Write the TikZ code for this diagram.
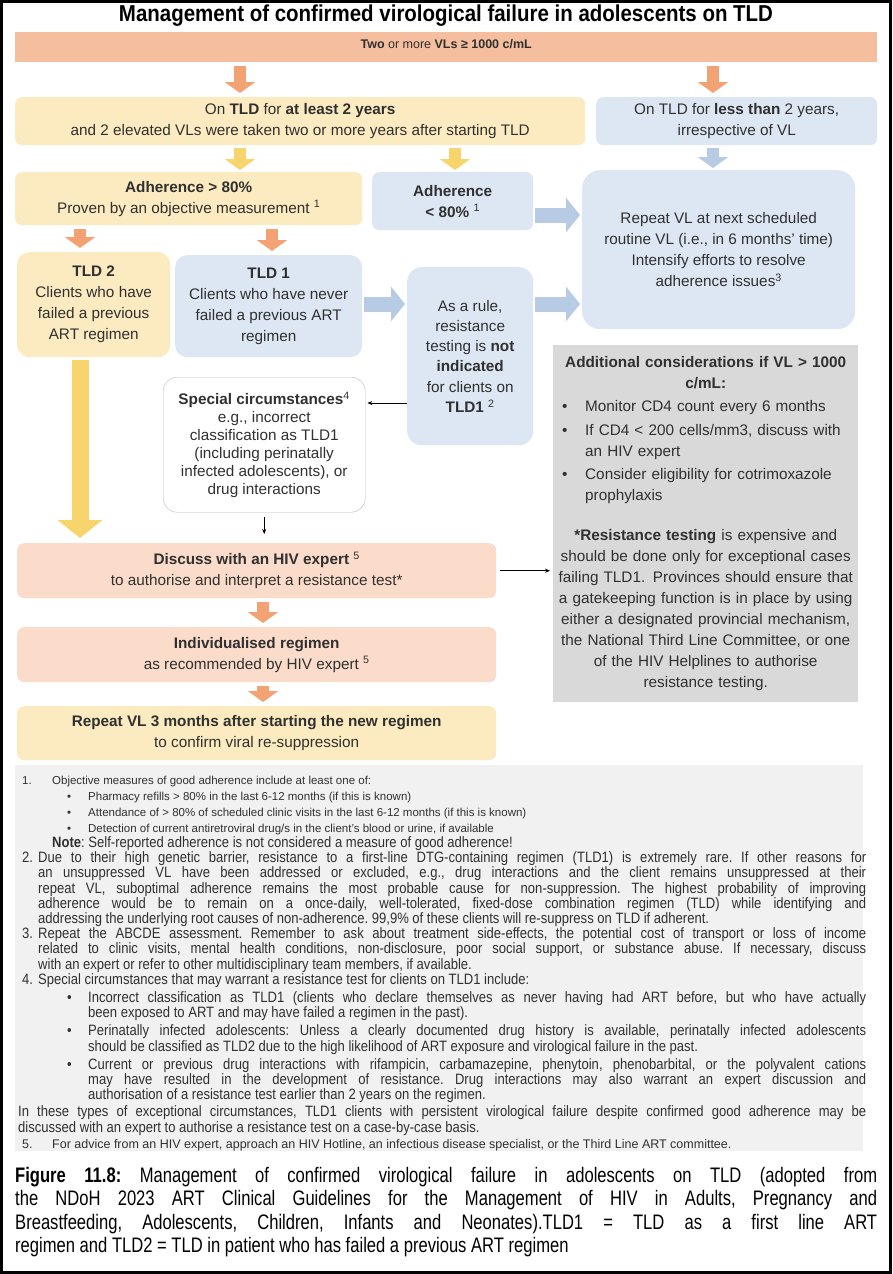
\documentclass[tikz,border=0pt]{standalone}
\usepackage{fontspec}
\setmainfont{Liberation Sans}
\newfontfamily\titlefamily{Liberation Sans}[FakeStretch=0.89]
\newfontfamily\notefamily{Liberation Sans}[FakeStretch=0.87]
\newfontfamily\capfamily{Liberation Sans}[FakeStretch=0.79]
\usetikzlibrary{arrows.meta}

\definecolor{salmon}{HTML}{F5BE9F}
\definecolor{peach}{HTML}{FBDCCA}
\definecolor{paleyellow}{HTML}{FCEBC0}
\definecolor{paleblue}{HTML}{DDE7F3}
\definecolor{arroworange}{HTML}{F2A273}
\definecolor{arrowyellow}{HTML}{F8D46C}
\definecolor{arrowblue}{HTML}{B7CBE5}
\definecolor{boxgray}{HTML}{D9D9D9}
\definecolor{notegray}{HTML}{F1F1F1}
\definecolor{inkgray}{HTML}{303030}

\newcommand{\flowfont}{\fontsize{15.3}{21}\selectfont}
\newcommand{\titlefont}{\titlefamily\bfseries\fontsize{23}{26}\selectfont}
\newcommand{\notefont}{\notefamily\fontsize{15}{15.2}\selectfont}
\newcommand{\notesmall}{\fontsize{11.5}{16}\selectfont}
\newcommand{\capfont}{\capfamily\fontsize{21}{23.5}\selectfont}

\newcommand{\graybullet}[1]{\par\vspace{2.5pt}\leftskip=29.5pt\noindent\llap{\makebox[23pt][l]{\textbullet}}#1}
\newcommand{\noteitem}[2]{\par\leftskip=#1\noindent\llap{\makebox[#1][l]{\hspace{4pt}#2}}}
\newcommand{\notebullet}{\par\leftskip=70pt\noindent\llap{\makebox[21pt][l]{\textbullet}}}
\newcommand{\justifyall}{\rightskip=0pt\spaceskip=0pt\xspaceskip=0pt\hbadness=10000\frenchspacing}

\tikzset{
  flowbox/.style={anchor=north west, rounded corners=7pt, align=center,
    inner sep=2pt, text=inkgray, font=\flowfont},
  yellowbox/.style={flowbox, fill=paleyellow},
  bluebox/.style={flowbox, fill=paleblue},
  peachbox/.style={flowbox, fill=peach},
  downarrow/.style={line width=12pt, -{Triangle[width=30pt,length=11pt]},
    shorten <=4pt, shorten >=4pt},
  orangedown/.style={downarrow, draw=arroworange},
  yellowdown/.style={downarrow, draw=arrowyellow, shorten <=3pt, shorten >=2pt},
  bluedown/.style={downarrow, draw=arrowblue, shorten <=3pt, shorten >=2pt},
  sidearrow/.style={line width=15pt, draw=arrowblue,
    -{Triangle[width=34pt,length=14pt]}, shorten <=2pt, shorten >=2pt},
  thinarrow/.style={line width=0.7pt, -{Stealth[length=5pt,width=4pt]}},
}

\begin{document}
\begin{tikzpicture}[x=1pt, y=-1pt]
  % Page and frame.
  \fill[white] (0,0) rectangle (892,1274);
  \useasboundingbox (0,0) rectangle (892,1274);
  \draw[line width=3pt] (1.5,1.5) rectangle (890.5,1272.5);

  \node[font=\titlefont] (title) at (446,16)
    {Management of confirmed virological failure in adolescents on TLD};

  % Flow chart.
  \node[flowbox, fill=salmon, rounded corners=0pt, minimum width=862pt,
    minimum height=30pt, text depth=7pt, font=\fontsize{12.5}{15}\selectfont]
    (vls) at (15,32) {\textbf{Two} or more \textbf{VLs ≥ 1000 c/mL}};

  \node[yellowbox, minimum width=570pt, minimum height=48pt] (atleast) at (15,97)
    {On \textbf{TLD} for \textbf{at least 2 years}\\
     and 2 elevated VLs were taken two or more years after starting TLD};
  \node[bluebox, minimum width=281pt, minimum height=48pt] (lessthan) at (596,97)
    {On TLD for \textbf{less than} 2 years,\\irrespective of VL};

  \node[yellowbox, minimum width=347pt, minimum height=53pt] (adhhigh) at (15,172)
    {\textbf{Adherence > 80\%}\\Proven by an objective measurement \textsuperscript{1}};
  \node[bluebox, minimum width=161pt, minimum height=58pt] (adhlow) at (372,172)
    {\textbf{Adherence}\\\textbf{< 80\%} \textsuperscript{1}};
  \node[bluebox, rounded corners=18pt, minimum width=273pt, minimum height=159pt]
    (repeat) at (582,170)
    {Repeat VL at next scheduled\\routine VL (i.e., in 6 months' time)\\
     Intensify efforts to resolve\\adherence issues\textsuperscript{3}};

  \node[yellowbox, rounded corners=12pt, minimum width=153pt, minimum height=105pt]
    (tldtwo) at (17,252)
    {\textbf{TLD 2}\\Clients who have\\failed a previous\\ART regimen};
  \node[bluebox, rounded corners=12pt, minimum width=187pt, minimum height=102pt]
    (tldone) at (175,255)
    {\textbf{TLD 1}\\Clients who have never\\failed a previous ART\\regimen};
  \node[bluebox, rounded corners=14pt, minimum width=126pt, minimum height=178pt,
    font=\fontsize{15.3}{20.2}\selectfont] (rule) at (407,267)
    {As a rule,\\resistance\\testing is \textbf{not}\\\textbf{indicated}\\
     for clients on\\\textbf{TLD1} \textsuperscript{2}};

  \node[flowbox, draw=gray!55, rounded corners=14pt, minimum width=202pt,
    minimum height=135pt, font=\fontsize{15.3}{18}\selectfont] (special) at (163,377)
    {\textbf{Special circumstances}\textsuperscript{4}\\e.g., incorrect\\
     classification as TLD1\\(including perinatally\\infected adolescents), or\\
     drug interactions};

  \node[anchor=north west, fill=boxgray, minimum width=305pt, minimum height=357pt,
    text width=300pt, inner xsep=2.5pt, inner ysep=6pt, align=center,
    text=inkgray, font=\flowfont] (extra) at (553,345)
    {\textbf{Additional considerations if VL > 1000}\\\textbf{c/mL:}\par
     {\raggedright
      \graybullet{Monitor CD4 count every 6 months}
      \graybullet{If CD4 < 200 cells/mm3, discuss with\newline an HIV expert}
      \graybullet{Consider eligibility for cotrimoxazole\newline prophylaxis}\par}
     \vspace{19pt}
     \textbf{*Resistance testing} is expensive and\\
     should be done only for exceptional cases\\
     failing TLD1. Provinces should ensure that\\
     a gatekeeping function is in place by using\\
     either a designated provincial mechanism,\\
     the National Third Line Committee, or one\\
     of the HIV Helplines to authorise\\
     resistance testing.};

  \node[peachbox, minimum width=479pt, minimum height=55pt] (discuss) at (17,543)
    {\textbf{Discuss with an HIV expert} \textsuperscript{5}\\
     to authorise and interpret a resistance test*};
  \node[peachbox, minimum width=479pt, minimum height=55pt] (indiv) at (17,627)
    {\textbf{Individualised regimen}\\as recommended by HIV expert \textsuperscript{5}};
  \node[yellowbox, minimum width=479pt, minimum height=54pt] (newvl) at (17,706)
    {\textbf{Repeat VL 3 months after starting the new regimen}\\
     to confirm viral re-suppression};

  % Arrow positions.
  \coordinate (xa) at (240,0);
  \coordinate (xb) at (713,0);
  \coordinate (xc) at (455,0);
  \coordinate (xd) at (80,0);
  \coordinate (xe) at (272,0);
  \coordinate (xf) at (263,0);
  \coordinate (ya) at (0,215);
  \coordinate (yb) at (0,304);
  \coordinate (yc) at (0,403);

  \draw[orangedown] (vls.south -| xa) -- (atleast.north -| xa);
  \draw[orangedown] (vls.south -| xb) -- (lessthan.north -| xb);
  \draw[yellowdown] (atleast.south -| xa) -- (adhhigh.north -| xa);
  \draw[yellowdown] (atleast.south -| xc) -- (adhlow.north -| xc);
  \draw[bluedown] (lessthan.south -| xb) -- (repeat.north -| xb);
  \draw[orangedown] (adhhigh.south -| xd) -- (tldtwo.north -| xd);
  \draw[orangedown] (adhhigh.south -| xe) -- (tldone.north -| xe);
  \draw[sidearrow] (adhlow.east |- ya) -- (repeat.west |- ya);
  \draw[sidearrow] (tldone.east |- yb) -- (rule.west |- yb);
  \draw[sidearrow] (rule.east |- yb) -- (repeat.west |- yb);
  \draw[line width=17pt, draw=arrowyellow, -{Triangle[width=44pt,length=18pt]},
    shorten <=3pt, shorten >=5pt] (tldtwo.south -| xd) -- (discuss.north -| xd);
  \draw[orangedown] (discuss.south -| xf) -- (indiv.north -| xf);
  \draw[orangedown] (indiv.south -| xf) -- (newvl.north -| xf);

  \draw[thinarrow, shorten >=2pt] (rule.west |- yc) -- (special.east |- yc);
  \draw[thinarrow, shorten <=5pt, shorten >=9pt] (special.south)
    -- (special.south |- discuss.north);
  \draw[thinarrow, shorten <=4pt, shorten >=3pt] (discuss.east)
    -- (discuss.east -| extra.west);

  % Notes.
  \node[anchor=north west, fill=notegray, minimum width=848pt, minimum height=386pt,
    inner sep=0pt] (notesbg) at (15,765) {};
  \node[anchor=north west, inner sep=0pt, text width=848pt, align=justify,
    text=inkgray] (notes) at (18,768) {\justifyall
    {\notesmall
     \noteitem{34pt}{1.}Objective measures of good adherence include at least one of:
     \notebullet Pharmacy refills > 80\% in the last 6-12 months (if this is known)
     \notebullet Attendance of > 80\% of scheduled clinic visits in the last 6-12 months (if this is known)
     \notebullet Detection of current antiretroviral drug/s in the client’s blood or urine, if available\par}
    {\notefont
     \noteitem{34pt}{}\textbf{Note}: Self-reported adherence is not considered a measure of good adherence!
     \noteitem{20pt}{2.}Due to their high genetic barrier, resistance to a first-line DTG-containing regimen (TLD1) is extremely rare. If other reasons for\linebreak
     an unsuppressed VL have been addressed or excluded, e.g., drug interactions and the client remains unsuppressed at their\linebreak
     repeat VL, suboptimal adherence remains the most probable cause for non-suppression. The highest probability of improving\linebreak
     adherence would be to remain on a once-daily, well-tolerated, fixed-dose combination regimen (TLD) while identifying and\linebreak
     addressing the underlying root causes of non-adherence. 99,9\% of these clients will re-suppress on TLD if adherent.
     \noteitem{20pt}{3.}Repeat the ABCDE assessment. Remember to ask about treatment side-effects, the potential cost of transport or loss of income\linebreak
     related to clinic visits, mental health conditions, non-disclosure, poor social support, or substance abuse. If necessary, discuss\linebreak
     with an expert or refer to other multidisciplinary team members, if available.
     \noteitem{20pt}{4.}Special circumstances that may warrant a resistance test for clients on TLD1 include:\par\vspace{3pt}
     \notebullet Incorrect classification as TLD1 (clients who declare themselves as never having had ART before, but who have actually\linebreak
     been exposed to ART and may have failed a regimen in the past).\par\vspace{3pt}
     \notebullet Perinatally infected adolescents: Unless a clearly documented drug history is available, perinatally infected adolescents\linebreak
     should be classified as TLD2 due to the high likelihood of ART exposure and virological failure in the past.\par\vspace{3pt}
     \notebullet Current or previous drug interactions with rifampicin, carbamazepine, phenytoin, phenobarbital, or the polyvalent cations\linebreak
     may have resulted in the development of resistance. Drug interactions may also warrant an expert discussion and\linebreak
     authorisation of a resistance test earlier than 2 years on the regimen.\par\vspace{2pt}
     \noteitem{0pt}{}In these types of exceptional circumstances, TLD1 clients with persistent virological failure despite confirmed good adherence may be\linebreak
     discussed with an expert to authorise a resistance test on a case-by-case basis.\par}
    {\fontsize{12.5}{16}\selectfont
     \noteitem{34pt}{5.}For advice from an HIV expert, approach an HIV Hotline, an infectious disease specialist, or the Third Line ART committee.\par}};

  % Caption.
  \node[anchor=north west, inner sep=0pt, text width=862pt, align=justify,
    font=\capfont] (caption) at (15,1167) {\justifyall\noindent\textbf{Figure 11.8:}
    Management of confirmed virological failure in adolescents on TLD (adopted from\linebreak
    the NDoH 2023 ART Clinical Guidelines for the Management of HIV in Adults, Pregnancy and\linebreak
    Breastfeeding, Adolescents, Children, Infants and Neonates).TLD1 = TLD as a first line ART\linebreak
    regimen and TLD2 = TLD in patient who has failed a previous ART regimen};
\end{tikzpicture}
\end{document}
